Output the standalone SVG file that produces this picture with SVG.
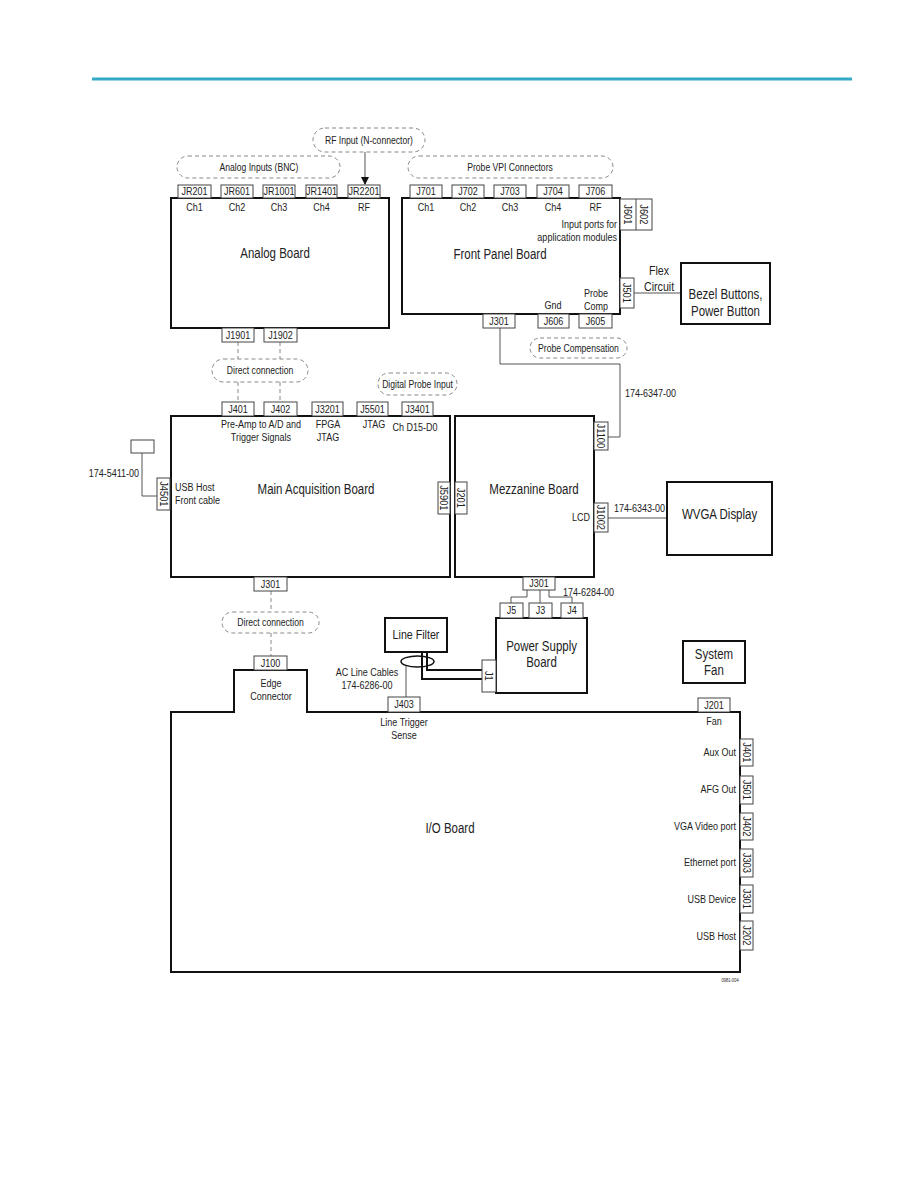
<svg xmlns="http://www.w3.org/2000/svg" width="918" height="1188" viewBox="0 0 918 1188">
<style>
text{font-family:"Liberation Sans",Arial,sans-serif;fill:#222;transform-box:fill-box;transform:scaleX(0.82);}
.board{fill:#fff;stroke:#111;stroke-width:2;}
.conn{fill:#fff;stroke:#444;stroke-width:1;}
.ln{fill:none;stroke:#555;stroke-width:1;}
.dl{fill:none;stroke:#888;stroke-width:1;stroke-dasharray:4,3;}
.oval{fill:#fff;stroke:#888;stroke-width:1;stroke-dasharray:4,3;}
.cab{fill:none;stroke:#111;stroke-width:2;}
.c{font-size:11px;text-anchor:middle;transform-origin:center;}
.s{font-size:11px;text-anchor:middle;transform-origin:center;}
.e{font-size:11px;text-anchor:end;transform-origin:right center;}
.st{font-size:11px;text-anchor:start;transform-origin:left center;}
.b{font-size:14px;text-anchor:middle;transform-origin:center;}
.m{font-size:13px;text-anchor:middle;transform-origin:center;}
.o{font-size:10.5px;text-anchor:middle;transform-origin:center;}
.r{font-size:11px;text-anchor:middle;dominant-baseline:central;transform-origin:center;transform:rotate(90deg) scaleX(0.85);}
.tiny{font-size:5px;text-anchor:middle;transform-origin:center;}
</style>
<defs>
<marker id="ah" markerWidth="8" markerHeight="8" refX="7" refY="4" orient="auto" markerUnits="userSpaceOnUse">
<path d="M0,0 L8,4 L0,8 z" fill="#111"/>
</marker>
</defs>
<rect width="918" height="1188" fill="#fff"/>
<line x1="92" y1="79" x2="852" y2="79" stroke="#34a9c7" stroke-width="3"/>

<g id="connectors">
<line class="ln" x1="365" y1="152" x2="365" y2="184" stroke="#111" marker-end="url(#ah)"/>
<line class="dl" x1="238" y1="342" x2="238" y2="359"/>
<line class="dl" x1="238" y1="382" x2="238" y2="402"/>
<line class="dl" x1="280" y1="342" x2="280" y2="359"/>
<line class="dl" x1="280" y1="382" x2="280" y2="402"/>
<line class="dl" x1="271" y1="591" x2="271" y2="612"/>
<line class="dl" x1="271" y1="633" x2="271" y2="656"/>
<polyline class="ln" points="500,328 500,364 620,364 620,437 608,437"/>
<line class="ln" x1="634" y1="293" x2="681" y2="293"/>
<line class="ln" x1="608" y1="518" x2="667" y2="518"/>
<polyline class="ln" points="142,453 142,496 157,496"/>
<polyline class="ln" points="527,590 527,597 511,597 511,603"/>
<line class="ln" x1="540" y1="590" x2="540" y2="603"/>
<polyline class="ln" points="549,590 549,597 572,597 572,603"/>
<polyline class="cab" points="422,652 422,679 482,679"/>
<polyline class="cab" points="427,652 427,670 482,670"/>
<ellipse cx="417.5" cy="661.5" rx="16.5" ry="5.5" fill="none" stroke="#111" stroke-width="1.5"/>
<line class="ln" x1="406" y1="666" x2="406" y2="697"/>
</g>

<g id="label-rf-input">
<rect class="oval" x="313" y="128" width="112" height="24" rx="12"/>
<text class="o" x="369" y="144">RF Input (N-connector)</text>
</g>
<g id="label-analog-inputs">
<rect class="oval" x="177" y="156" width="163" height="22" rx="11"/>
<text class="o" x="259" y="171">Analog Inputs (BNC)</text>
</g>
<g id="label-probe-vpi">
<rect class="oval" x="408" y="156" width="205" height="22" rx="11"/>
<text class="o" x="510" y="171">Probe VPI Connectors</text>
</g>

<g id="analog-board">
<rect class="board" x="171" y="198" width="218" height="130"/>
<rect class="conn" x="178" y="185" width="33" height="13"/><text class="c" x="194.5" y="195.5">JR201</text>
<rect class="conn" x="221" y="185" width="32" height="13"/><text class="c" x="237" y="195.5">JR601</text>
<rect class="conn" x="263" y="185" width="32" height="13"/><text class="c" x="279" y="195.5">JR1001</text>
<rect class="conn" x="306" y="185" width="31" height="13"/><text class="c" x="321.5" y="195.5">JR1401</text>
<rect class="conn" x="348" y="185" width="32" height="13"/><text class="c" x="364" y="195.5">JR2201</text>
<text class="s" x="194.5" y="211">Ch1</text>
<text class="s" x="237" y="211">Ch2</text>
<text class="s" x="279" y="211">Ch3</text>
<text class="s" x="321.5" y="211">Ch4</text>
<text class="s" x="364" y="211">RF</text>
<text class="b" x="275" y="258">Analog Board</text>
<rect class="conn" x="222" y="328" width="32" height="14"/><text class="c" x="238" y="339">J1901</text>
<rect class="conn" x="264" y="328" width="33" height="14"/><text class="c" x="280.5" y="339">J1902</text>
</g>

<g id="front-panel-board">
<rect class="board" x="402" y="198" width="218" height="116"/>
<rect class="conn" x="410" y="185" width="32" height="13"/><text class="c" x="426" y="195.5">J701</text>
<rect class="conn" x="452" y="185" width="32" height="13"/><text class="c" x="468" y="195.5">J702</text>
<rect class="conn" x="494" y="185" width="32" height="13"/><text class="c" x="510" y="195.5">J703</text>
<rect class="conn" x="537" y="185" width="32" height="13"/><text class="c" x="553" y="195.5">J704</text>
<rect class="conn" x="579" y="185" width="33" height="13"/><text class="c" x="595.5" y="195.5">J706</text>
<text class="s" x="426" y="211">Ch1</text>
<text class="s" x="468" y="211">Ch2</text>
<text class="s" x="510" y="211">Ch3</text>
<text class="s" x="553" y="211">Ch4</text>
<text class="s" x="595.5" y="211">RF</text>
<text class="e" x="617" y="228">Input ports for</text>
<text class="e" x="617" y="241">application modules</text>
<text class="b" x="500" y="259">Front Panel Board</text>
<text class="s" x="553" y="309">Gnd</text>
<text class="s" x="596" y="297">Probe</text>
<text class="s" x="596" y="310">Comp</text>
<rect class="conn" x="620" y="199" width="32" height="31"/>
<line x1="636" y1="199" x2="636" y2="230" stroke="#444" stroke-width="1"/>
<text class="r" x="628" y="214.5">J601</text>
<text class="r" x="644" y="214.5">J602</text>
<rect class="conn" x="620" y="278" width="14" height="30"/>
<text class="r" x="627" y="293">J501</text>
<rect class="conn" x="483" y="314" width="32" height="14"/><text class="c" x="499" y="325">J301</text>
<rect class="conn" x="538" y="314" width="31" height="14"/><text class="c" x="553.5" y="325">J606</text>
<rect class="conn" x="579" y="314" width="33" height="14"/><text class="c" x="595.5" y="325">J605</text>
</g>

<g id="label-probe-comp">
<rect class="oval" x="530" y="338" width="97" height="20" rx="10"/>
<text class="o" x="578.5" y="352">Probe Compensation</text>
</g>

<g id="label-flex">
<text class="m" x="659" y="275">Flex</text>
<text class="m" x="659" y="291">Circuit</text>
</g>

<g id="bezel-buttons">
<rect class="board" x="681" y="263" width="89" height="61"/>
<text class="b" x="725.5" y="299">Bezel Buttons,</text>
<text class="b" x="725.5" y="316">Power Button</text>
</g>

<g id="label-cable-6347">
<text class="st" x="625" y="397">174-6347-00</text>
</g>

<g id="label-direct-1">
<rect class="oval" x="212" y="359" width="96" height="23" rx="11.5"/>
<text class="o" x="260" y="374">Direct connection</text>
</g>
<g id="label-digital-probe">
<rect class="oval" x="378" y="373" width="79" height="22" rx="11"/>
<text class="o" x="417.5" y="388">Digital Probe Input</text>
</g>

<g id="main-acquisition-board">
<rect class="board" x="171" y="416" width="279" height="161"/>
<rect class="conn" x="222" y="402" width="32" height="14"/><text class="c" x="238" y="413">J401</text>
<rect class="conn" x="264" y="402" width="33" height="14"/><text class="c" x="280.5" y="413">J402</text>
<rect class="conn" x="312" y="402" width="31" height="14"/><text class="c" x="327.5" y="413">J3201</text>
<rect class="conn" x="357" y="402" width="31" height="14"/><text class="c" x="372.5" y="413">J5501</text>
<rect class="conn" x="402" y="402" width="31" height="14"/><text class="c" x="417.5" y="413">J3401</text>
<text class="s" x="261" y="428">Pre-Amp to A/D and</text>
<text class="s" x="261" y="441">Trigger Signals</text>
<text class="s" x="328" y="428">FPGA</text>
<text class="s" x="328" y="441">JTAG</text>
<text class="s" x="374" y="428">JTAG</text>
<text class="s" x="415" y="431">Ch D15-D0</text>
<text class="st" x="175" y="491">USB Host</text>
<text class="st" x="175" y="504">Front cable</text>
<text class="b" x="316" y="494">Main Acquisition Board</text>
<rect class="conn" x="157" y="478" width="13" height="32"/>
<text class="r" x="163.5" y="494">J4501</text>
<rect class="conn" x="438" y="482" width="12" height="32"/>
<text class="r" x="444" y="498">J5901</text>
<rect class="conn" x="254" y="577" width="33" height="14"/><text class="c" x="270.5" y="588">J301</text>
</g>

<g id="usb-front-cable">
<rect class="conn" x="131" y="440" width="23" height="13"/>
<text class="e" x="139" y="477">174-5411-00</text>
</g>

<g id="mezzanine-board">
<rect class="board" x="455" y="416" width="139" height="161"/>
<text class="b" x="534" y="494">Mezzanine Board</text>
<rect class="conn" x="455" y="482" width="12" height="32"/>
<text class="r" x="461" y="498">J201</text>
<rect class="conn" x="594" y="422" width="14" height="28"/>
<text class="r" x="601" y="436">J1100</text>
<rect class="conn" x="594" y="503" width="14" height="29"/>
<text class="r" x="601" y="517.5">J1002</text>
<text class="e" x="590" y="521">LCD</text>
<rect class="conn" x="523" y="577" width="32" height="13"/><text class="c" x="539" y="587.5">J301</text>
</g>

<g id="label-cable-6343">
<text class="st" x="614" y="512">174-6343-00</text>
</g>

<g id="wvga-display">
<rect class="board" x="667" y="482" width="105" height="73"/>
<text class="b" x="719.5" y="519">WVGA Display</text>
</g>

<g id="label-direct-2">
<rect class="oval" x="222" y="612" width="97" height="21" rx="10.5"/>
<text class="o" x="270.5" y="626">Direct connection</text>
</g>

<g id="label-cable-6284">
<text class="st" x="563" y="596">174-6284-00</text>
</g>

<g id="line-filter">
<rect class="board" x="385" y="618" width="62" height="34"/>
<text class="m" x="416" y="639">Line Filter</text>
</g>

<g id="power-supply-board">
<rect class="board" x="496" y="618" width="91" height="75"/>
<text class="b" x="541.5" y="651">Power Supply</text>
<text class="b" x="541.5" y="667">Board</text>
<rect class="conn" x="500" y="603" width="23" height="15"/><text class="c" x="511.5" y="614.5">J5</text>
<rect class="conn" x="529" y="603" width="23" height="15"/><text class="c" x="540.5" y="614.5">J3</text>
<rect class="conn" x="561" y="603" width="22" height="15"/><text class="c" x="572" y="614.5">J4</text>
<rect class="conn" x="482" y="660" width="14" height="32"/>
<text class="r" x="489" y="676">J1</text>
</g>

<g id="label-ac-line">
<text class="s" x="367" y="676">AC Line Cables</text>
<text class="s" x="367" y="689">174-6286-00</text>
</g>

<g id="system-fan">
<rect class="board" x="683" y="641" width="62" height="42"/>
<text class="b" x="714" y="659">System</text>
<text class="b" x="714" y="675">Fan</text>
</g>

<g id="io-board">
<polygon class="board" points="171,712 234,712 234,670 307,670 307,712 740,712 740,972 171,972"/>
<rect class="conn" x="254" y="656" width="33" height="14"/><text class="c" x="270.5" y="667">J100</text>
<text class="s" x="271" y="687">Edge</text>
<text class="s" x="271" y="700">Connector</text>
<rect class="conn" x="388" y="697" width="32" height="15"/><text class="c" x="404" y="708.5">J403</text>
<text class="s" x="404" y="726">Line Trigger</text>
<text class="s" x="404" y="739">Sense</text>
<rect class="conn" x="698" y="698" width="32" height="14"/><text class="c" x="714" y="709">J201</text>
<text class="s" x="714" y="725">Fan</text>
<text class="b" x="450" y="833">I/O Board</text>
<rect class="conn" x="740" y="739" width="13" height="27"/>
<text class="r" x="746.5" y="752.5">J401</text>
<text class="e" x="736" y="756">Aux Out</text>
<rect class="conn" x="740" y="776" width="13" height="28"/>
<text class="r" x="746.5" y="790">J501</text>
<text class="e" x="736" y="793">AFG Out</text>
<rect class="conn" x="740" y="813" width="13" height="27"/>
<text class="r" x="746.5" y="826.5">J402</text>
<text class="e" x="736" y="830">VGA Video port</text>
<rect class="conn" x="740" y="849" width="13" height="28"/>
<text class="r" x="746.5" y="863">J303</text>
<text class="e" x="736" y="866">Ethernet port</text>
<rect class="conn" x="740" y="885" width="13" height="28"/>
<text class="r" x="746.5" y="899">J301</text>
<text class="e" x="736" y="903">USB Device</text>
<rect class="conn" x="740" y="921" width="13" height="29"/>
<text class="r" x="746.5" y="935.5">J202</text>
<text class="e" x="736" y="940">USB Host</text>
</g>

<text class="tiny" x="730" y="982">0981-004</text>
</svg>
